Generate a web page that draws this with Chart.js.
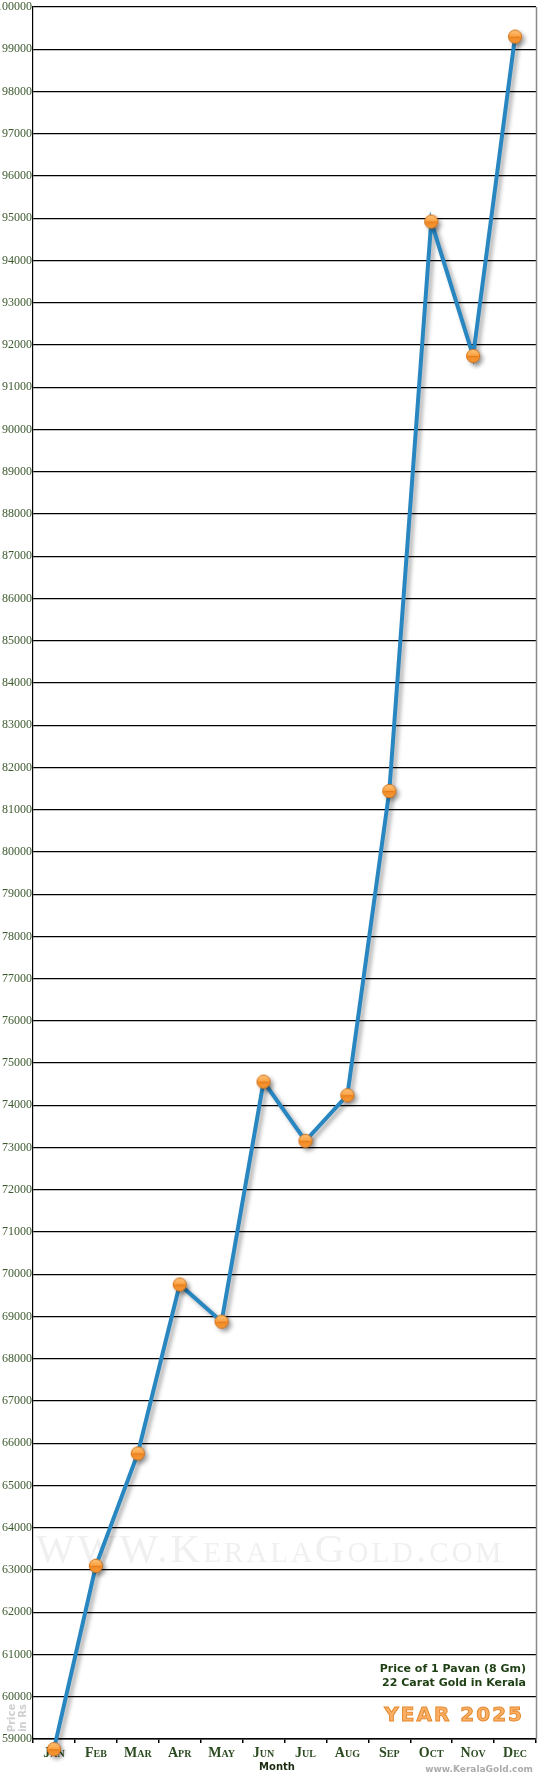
<!DOCTYPE html>
<html>
<head>
<meta charset="utf-8">
<script src="https://cdn.jsdelivr.net/npm/chart.js@4.4.1/dist/chart.umd.min.js"></script>
<style>
  html, body { margin: 0; padding: 0; background: #fff; }
  #wrap { width: 550px; height: 1780px; position: relative; }
</style>
</head>
<body>
<div id="wrap"><canvas id="c" width="550" height="1780"></canvas></div>
<script>
const months = ['Jan', 'Feb', 'Mar', 'Apr', 'May', 'Jun', 'Jul', 'Aug', 'Sep', 'Oct', 'Nov', 'Dec'];
const prices = [58760, 63100, 65760, 69760, 68880, 74560, 73160, 74240, 81440, 94920, 91740, 99300];
const yMin = 59000;
const yMax = 100000;
const yStep = 1000;
const xTitle = 'Month';
const yTitleLines = ['Price', 'in Rs'];
const captionLines = ['Price of 1 Pavan (8 Gm)', '22 Carat Gold in Kerala'];
const yearLabel = 'YEAR 2025';
const siteLabel = 'www.KeralaGold.com';
const watermark = 'WWW.KeralaGold.com';

// marker image (orange glossy ball)
function makeMarker() {
  const s = 16, c = document.createElement('canvas');
  c.width = s; c.height = s;
  const g = c.getContext('2d');
  const r = 6.6, cx = s / 2, cy = s / 2;
  const grad = g.createLinearGradient(0, cy - r, 0, cy + r);
  grad.addColorStop(0, '#ffc47a');
  grad.addColorStop(0.45, '#fba446');
  grad.addColorStop(0.55, '#f08a24');
  grad.addColorStop(1, '#f79a3a');
  g.beginPath();
  g.arc(cx, cy, r, 0, Math.PI * 2);
  g.fillStyle = grad;
  g.fill();
  g.lineWidth = 1;
  g.strokeStyle = '#d4731a';
  g.stroke();
  g.beginPath();
  g.moveTo(cx - r + 2, cy + 0.5);
  g.lineTo(cx + r - 2, cy + 0.5);
  g.strokeStyle = 'rgba(215,110,20,0.6)';
  g.stroke();
  return c;
}
const marker = makeMarker();

const decorPlugin = {
  id: 'decor',
  beforeDatasetsDraw(chart) {
    const ctx = chart.ctx, a = chart.chartArea;
    ctx.save();
    // watermark
    ctx.font = 'small-caps 41px "Liberation Serif", serif';
    try { ctx.letterSpacing = '3px'; } catch (e) {}
    ctx.fillStyle = '#f0f0f0';
    ctx.textAlign = 'left';
    ctx.textBaseline = 'alphabetic';
    ctx.fillText(watermark, a.left + 3, 1562, 470);
    try { ctx.letterSpacing = '0px'; } catch (e) {}
    // right border
    ctx.strokeStyle = '#8a8a8a';
    ctx.lineWidth = 1.5;
    ctx.beginPath();
    ctx.moveTo(a.right + 0.5, a.top);
    ctx.lineTo(a.right + 0.5, a.bottom);
    ctx.stroke();
    // caption
    ctx.fillStyle = '#1f4014';
    ctx.font = 'bold 11px "DejaVu Sans", Verdana, sans-serif';
    ctx.textAlign = 'right';
    ctx.textBaseline = 'middle';
    ctx.fillText(captionLines[0], a.right - 10, 1669);
    ctx.fillText(captionLines[1], a.right - 10, 1683);
    // year
    ctx.font = 'bold 20px "DejaVu Sans", Verdana, sans-serif';
    try { ctx.letterSpacing = '2px'; } catch (e) {}
    ctx.lineWidth = 1;
    ctx.strokeStyle = '#e58a30';
    ctx.fillStyle = '#fbb066';
    ctx.fillText(yearLabel, a.right - 12, 1716, 166);
    ctx.strokeText(yearLabel, a.right - 12, 1716, 166);
    try { ctx.letterSpacing = '0px'; } catch (e) {}
    ctx.restore();
  },
  afterDraw(chart) {
    const ctx = chart.ctx;
    ctx.save();
    // x title
    ctx.fillStyle = '#1a2a10';
    ctx.font = 'bold 10px "DejaVu Sans", Verdana, sans-serif';
    ctx.textAlign = 'center';
    ctx.textBaseline = 'middle';
    ctx.fillText(xTitle, 277, 1767);
    // site label
    ctx.fillStyle = '#ababab';
    ctx.font = 'bold 9px "DejaVu Sans", Verdana, sans-serif';
    ctx.textAlign = 'right';
    ctx.fillText(siteLabel, 533, 1770);
    // y title (rotated)
    ctx.translate(17, 1718);
    ctx.rotate(-Math.PI / 2);
    ctx.fillStyle = '#cfcfcf';
    ctx.font = 'bold 10px "DejaVu Sans", Verdana, sans-serif';
    ctx.textAlign = 'center';
    ctx.fillText(yTitleLines[0], 0, -5);
    ctx.fillText(yTitleLines[1], 0, 6);
    ctx.restore();
  },
  beforeDatasetDraw(chart) {
    const ctx = chart.ctx;
    ctx.save();
    ctx.shadowColor = 'rgba(0,0,0,0.35)';
    ctx.shadowBlur = 4;
    ctx.shadowOffsetX = 3;
    ctx.shadowOffsetY = 3;
  },
  afterDatasetDraw(chart) {
    chart.ctx.restore();
  }
};

new Chart(document.getElementById('c'), {
  type: 'line',
  data: {
    labels: months,
    datasets: [{
      data: prices,
      borderColor: '#2886c1',
      borderWidth: 4,
      tension: 0,
      clip: false,
      pointStyle: marker,
      pointRadius: 7,
      pointHoverRadius: 7
    }]
  },
  options: {
    responsive: false,
    animation: false,
    devicePixelRatio: 1,
    layout: { autoPadding: false, padding: { top: 7, right: 14, left: 0, bottom: 0 } },
    plugins: { legend: { display: false }, tooltip: { enabled: false } },
    scales: {
      x: {
        type: 'category',
        offset: true,
        grid: { display: true, drawOnChartArea: false, drawTicks: true, tickLength: 4, color: '#000', lineWidth: 1.5, offset: true },
        border: { display: true, color: '#000', width: 1.5 },
        ticks: {
          autoSkip: false, maxRotation: 0, padding: 2,
          color: '#2b4a1f',
          font: { family: '"Liberation Serif", "DejaVu Serif", serif', size: 14, weight: 'small-caps bold' }
        },
        afterFit(s) { s.height = 41; s.paddingLeft = 0; s.paddingRight = 0; }
      },
      y: {
        min: yMin, max: yMax,
        grid: { color: '#000', lineWidth: 1.2, drawTicks: false },
        border: { display: true, color: '#000', width: 1.2 },
        ticks: {
          stepSize: yStep, autoSkip: false, padding: 1,
          color: '#3d5a2e',
          font: { family: '"Liberation Serif", "DejaVu Serif", serif', size: 12, lineHeight: 1 },
          callback: (v) => String(v)
        },
        afterFit(s) { s.width = 33; s.paddingTop = 0; s.paddingBottom = 0; }
      }
    }
  },
  plugins: [decorPlugin]
});
</script>
</body>
</html>
